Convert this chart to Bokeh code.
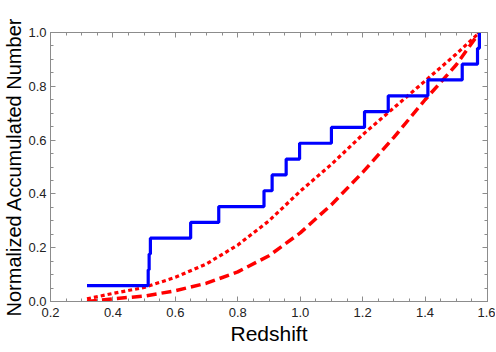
from bokeh.plotting import figure
from bokeh.models import LinearAxis, FixedTicker, NumeralTickFormatter, Range1d
from bokeh.embed import file_html
from bokeh.resources import INLINE

# Observed cumulative distribution (blue step)
obs_z = [0.317, 0.513, 0.516, 0.520, 0.649, 0.739, 0.884, 0.910, 0.955,
         0.998, 1.100, 1.206, 1.282, 1.409, 1.519, 1.568, 1.574]
obs_frac = [k / 17 for k in range(1, 18)]

# Model curve 1 (dotted)
dot_z = [0.317, 0.4, 0.5, 0.6, 0.7, 0.8, 0.9, 1.0, 1.1, 1.2, 1.3, 1.4, 1.5, 1.574]
dot_frac = [0.01, 0.03, 0.052, 0.09, 0.14, 0.21, 0.30, 0.41, 0.51, 0.62, 0.72, 0.82, 0.92, 1.0]

# Model curve 2 (dashed)
dash_z = [0.317, 0.4, 0.5, 0.6, 0.7, 0.8, 0.9, 1.0, 1.1, 1.2, 1.3, 1.4, 1.5, 1.574]
dash_frac = [0.0, 0.01, 0.02, 0.04, 0.068, 0.11, 0.17, 0.255, 0.36, 0.48, 0.61, 0.75, 0.88, 1.0]

x_ticks = [0.2, 0.4, 0.6, 0.8, 1.0, 1.2, 1.4, 1.6]
y_ticks = [0.0, 0.2, 0.4, 0.6, 0.8, 1.0]
x_minor = [round(0.2 + 0.05 * i, 3) for i in range(29)]
y_minor = [round(0.05 * i, 3) for i in range(21)]

FONT = "Liberation Sans"
AXC = "#8c8c8c"

p = figure(frame_width=437, frame_height=269, output_backend="svg", toolbar_location=None,
           x_range=Range1d(0.2, 1.6), y_range=Range1d(0.0, 1.0),
           min_border_left=42, min_border_right=8, min_border_top=32, min_border_bottom=0,
           x_axis_label="Redshift", y_axis_label="Normalized Accumulated Number")
p.outline_line_color = None
p.grid.visible = False
p.background_fill_color = "white"
p.border_fill_color = "white"

def style(ax, ticks, minor, labels=True):
    ax.ticker = FixedTicker(ticks=ticks, minor_ticks=minor)
    ax.formatter = NumeralTickFormatter(format="0.0")
    ax.axis_line_color = AXC
    ax.major_tick_line_color = AXC
    ax.minor_tick_line_color = AXC
    ax.major_tick_in = 5
    ax.major_tick_out = 0
    ax.minor_tick_in = 3
    ax.minor_tick_out = 0
    ax.major_label_text_font = FONT
    ax.major_label_text_font_size = "13px"
    ax.major_label_text_color = "#222222"
    ax.axis_label_text_font = FONT
    ax.axis_label_text_font_style = "normal"
    ax.axis_label_text_color = "black"
    if not labels:
        ax.major_label_text_alpha = 0
        ax.major_label_text_font_size = "0px"
        ax.major_label_standoff = 0

style(p.xaxis[0], x_ticks, x_minor)
style(p.yaxis[0], y_ticks, y_minor)
p.xaxis[0].axis_label_text_font_size = "21px"
p.yaxis[0].axis_label_text_font_size = "20px"
p.xaxis[0].major_label_standoff = 6
p.yaxis[0].major_label_standoff = 4
p.xaxis[0].axis_label_standoff = 2
p.yaxis[0].axis_label_standoff = 0

top = LinearAxis()
style(top, x_ticks, x_minor, labels=False)
p.add_layout(top, "above")
right = LinearAxis()
style(right, y_ticks, y_minor, labels=False)
p.add_layout(right, "right")

p.line(dot_z, dot_frac, line_color="#ff0000", line_width=3.2, line_dash="4 3")
p.line(dash_z, dash_frac, line_color="#ff0000", line_width=3.5, line_dash="10 5")
p.step(obs_z, obs_frac, mode="after", line_color="#0000ff", line_width=3.2)

open("out.html", "w").write(file_html(p, INLINE))
